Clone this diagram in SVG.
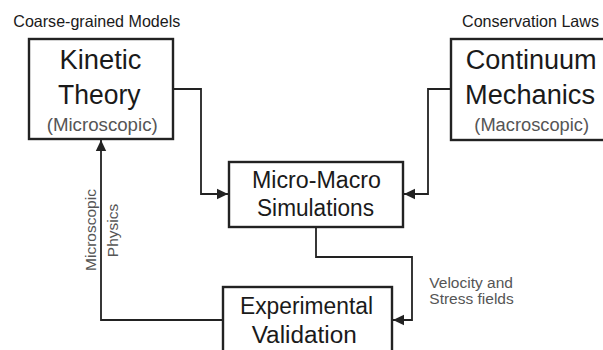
<svg xmlns="http://www.w3.org/2000/svg" width="603" height="350" viewBox="0 0 603 350">
  <defs>
    <style>
      .box { fill: #ffffff; stroke: #222222; stroke-width: 2.4; }
      .conn { fill: none; stroke: #222222; stroke-width: 1.8; }
      .title { font-family: "Liberation Sans", Arial, sans-serif; font-size: 27px; fill: #1a1a1a; }
      .mid { font-family: "Liberation Sans", Arial, sans-serif; font-size: 23px; fill: #1a1a1a; }
      .sub { font-family: "Liberation Sans", Arial, sans-serif; font-size: 18.8px; fill: #555555; }
      .head { font-family: "Liberation Sans", Arial, sans-serif; font-size: 16.5px; fill: #1a1a1a; }
      .lbl { font-family: "Liberation Sans", Arial, sans-serif; font-size: 15.5px; fill: #555555; }
    </style>
    <marker id="arrow" markerUnits="userSpaceOnUse" markerWidth="12" markerHeight="12" viewBox="0 0 12 12" refX="11" refY="6" orient="auto">
      <path d="M0,0.8 L11,6 L0,11.2 Z" fill="#222222"/>
    </marker>
  </defs>

  <rect width="603" height="350" fill="#ffffff"/>

  <g id="connectors">
    <path class="conn" d="M173,89 H201 V194 H228" marker-end="url(#arrow)"/>
    <path class="conn" d="M451,89 H428 V194 H404" marker-end="url(#arrow)"/>
    <path class="conn" d="M316,227 V257 H412 V320 H393" marker-end="url(#arrow)"/>
    <path class="conn" d="M223,320 H101 V140" marker-end="url(#arrow)"/>
  </g>

  <g id="kinetic-theory">
    <text class="head" x="13.3" y="27.3" textLength="167" lengthAdjust="spacingAndGlyphs">Coarse-grained Models</text>
    <rect class="box" x="29" y="39" width="144" height="100"/>
    <text class="title" x="59.5" y="69.3" textLength="82" lengthAdjust="spacingAndGlyphs">Kinetic</text>
    <text class="title" x="58" y="104.3" textLength="82.5" lengthAdjust="spacingAndGlyphs">Theory</text>
    <text class="sub" x="46.7" y="131" textLength="111" lengthAdjust="spacingAndGlyphs">(Microscopic)</text>
  </g>

  <g id="continuum-mechanics">
    <text class="head" x="462" y="27.3" textLength="137" lengthAdjust="spacingAndGlyphs">Conservation Laws</text>
    <rect class="box" x="451" y="39" width="165" height="101"/>
    <text class="title" x="465.7" y="69.3" textLength="131" lengthAdjust="spacingAndGlyphs">Continuum</text>
    <text class="title" x="465" y="104.3" textLength="130" lengthAdjust="spacingAndGlyphs">Mechanics</text>
    <text class="sub" x="474.3" y="131" textLength="114.7" lengthAdjust="spacingAndGlyphs">(Macroscopic)</text>
  </g>

  <g id="micro-macro-simulations">
    <rect class="box" x="229" y="162" width="174" height="65"/>
    <text class="mid" x="252" y="188" textLength="129" lengthAdjust="spacingAndGlyphs">Micro-Macro</text>
    <text class="mid" x="257" y="216" textLength="117" lengthAdjust="spacingAndGlyphs">Simulations</text>
  </g>

  <g id="experimental-validation">
    <rect class="box" x="223" y="287" width="169" height="80"/>
    <text class="mid" x="240" y="314" textLength="133" lengthAdjust="spacingAndGlyphs">Experimental</text>
    <text class="mid" x="251.7" y="343" textLength="105" lengthAdjust="spacingAndGlyphs">Validation</text>
  </g>

  <g id="labels">
    <text class="lbl" transform="translate(95.5,230) rotate(-90)" text-anchor="middle">Microscopic</text>
    <text class="lbl" transform="translate(117.5,230.5) rotate(-90)" text-anchor="middle">Physics</text>
    <text class="lbl" x="429.3" y="288">Velocity and</text>
    <text class="lbl" x="429.3" y="304">Stress fields</text>
  </g>
</svg>
